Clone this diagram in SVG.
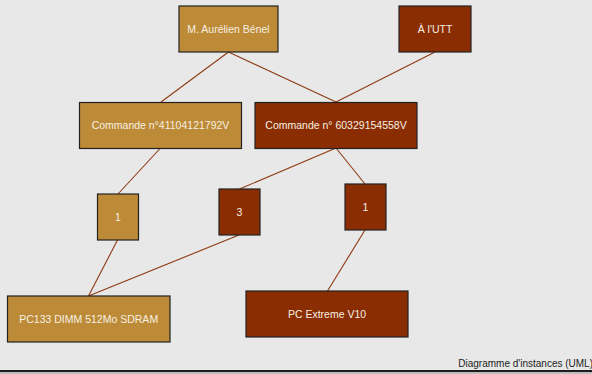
<svg xmlns="http://www.w3.org/2000/svg" width="592" height="374" viewBox="0 0 592 374">
<style>
.gold{fill:#bd8a37;stroke:#222;stroke-width:1.2}
.red{fill:#8a2d02;stroke:#222;stroke-width:1.2}
.lbl{font-family:"Liberation Sans",Arial,sans-serif;font-size:10.5px;fill:#f6f0e2;text-anchor:middle}
.conn line{stroke:#8e3a12;stroke-width:1.1}
.foot{font-family:"Liberation Sans",Arial,sans-serif;font-size:10px;fill:#222;text-anchor:end}
</style>
<rect x="0" y="0" width="592" height="374" fill="#e8e8e8"/>
<g class="conn" id="connectors">
<line x1="228.5" y1="52" x2="161" y2="102"/>
<line x1="228.5" y1="52" x2="336" y2="102"/>
<line x1="435" y1="52" x2="336" y2="102"/>
<line x1="160.5" y1="148" x2="118" y2="194"/>
<line x1="336" y1="148" x2="239.5" y2="189"/>
<line x1="336" y1="148" x2="365" y2="184"/>
<line x1="117.5" y1="240" x2="88.5" y2="296"/>
<line x1="239" y1="235" x2="88.5" y2="296"/>
<line x1="365" y1="230" x2="327.5" y2="291"/>
</g>
<g id="benel"><rect class="gold" x="179" y="6" width="99" height="46"/><text class="lbl" x="228.5" y="32.8">M. Aurélien Bénel</text></g>
<g id="utt"><rect class="red" x="399" y="6" width="72" height="46"/><text class="lbl" x="435" y="32.8">À l'UTT</text></g>
<g id="cmd1"><rect class="gold" x="79.5" y="102.5" width="162" height="46"/><text class="lbl" x="160.5" y="129.3">Commande n°41104121792V</text></g>
<g id="cmd2"><rect class="red" x="255" y="102.5" width="162" height="46"/><text class="lbl" x="336" y="129.3">Commande n° 60329154558V</text></g>
<g id="q1"><rect class="gold" x="97.5" y="194" width="41" height="46"/><text class="lbl" x="118" y="220.8">1</text></g>
<g id="q3"><rect class="red" x="219" y="189" width="41" height="46"/><text class="lbl" x="239.5" y="215.8">3</text></g>
<g id="q1b"><rect class="red" x="345" y="184" width="41" height="46"/><text class="lbl" x="365.5" y="210.8">1</text></g>
<g id="ram"><rect class="gold" x="7.5" y="296" width="162.5" height="46"/><text class="lbl" x="88.7" y="322.8">PC133 DIMM 512Mo SDRAM</text></g>
<g id="pc"><rect class="red" x="246" y="291" width="162" height="46"/><text class="lbl" x="327" y="317.8">PC Extreme V10</text></g>
<text class="foot" x="593" y="367">Diagramme d'instances (UML)</text>
<rect x="0" y="370" width="592" height="2.2" fill="#1c1c1c"/>
<rect x="0" y="372.2" width="592" height="1.8" fill="#bdbdbd"/>
</svg>
